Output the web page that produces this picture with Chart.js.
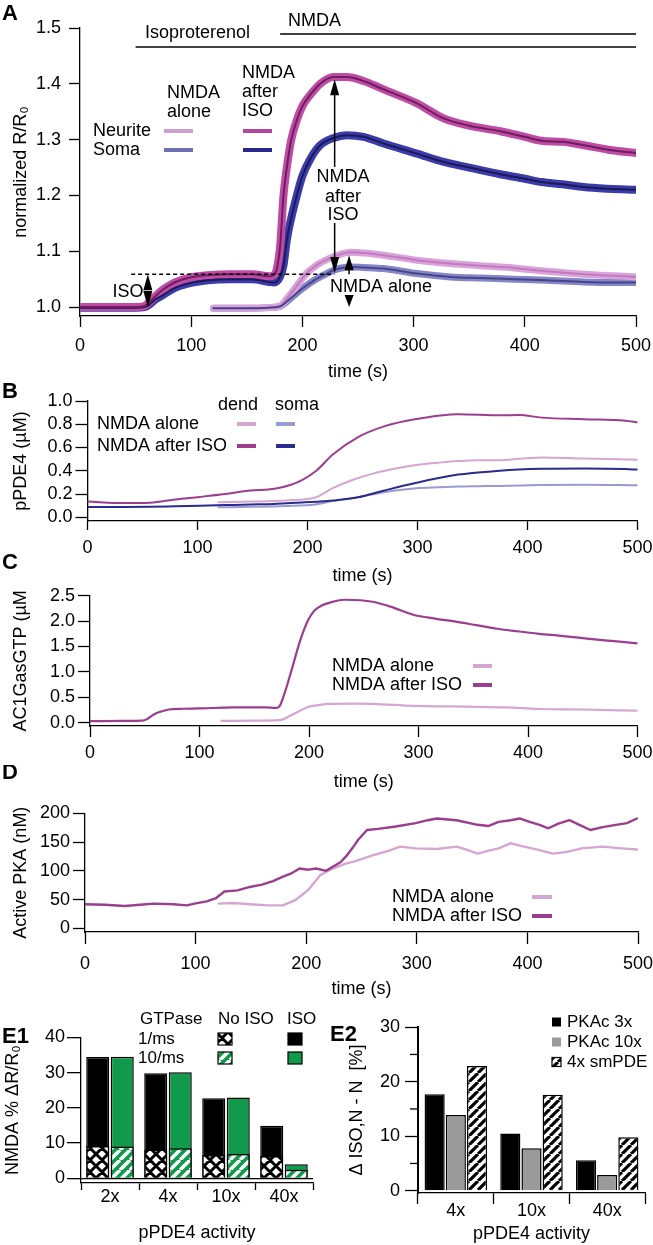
<!DOCTYPE html>
<html>
<head>
<meta charset="utf-8">
<title>pPDE4 / NMDA after ISO</title>
<script src="https://cdn.jsdelivr.net/npm/chart.js@4.4.1/dist/chart.umd.min.js"></script>
<style>
  html, body { margin: 0; padding: 0; background: #fff; }
  body { position: relative; width: 653px; height: 1245px; overflow: hidden; }
  canvas { position: absolute; }
</style>
</head>
<body>
<canvas id="chartA"></canvas>
<canvas id="chartB"></canvas>
<canvas id="chartC"></canvas>
<canvas id="chartD"></canvas>
<canvas id="chartE1"></canvas>
<canvas id="chartE2"></canvas>
<script>
// ===== Panel A : normalized R/R0 =====
const tIsoA = [0, 50, 58, 62, 68, 75, 85, 97, 115, 135, 155, 170, 174, 177, 180, 183, 186, 190, 195, 200, 207, 216, 228, 240, 255, 273, 303, 327, 350, 378, 400, 415, 434, 453, 475, 500];
const neuriteIsoA = [1.000, 1.000, 1.002, 1.008, 1.020, 1.032, 1.044, 1.052, 1.057, 1.059, 1.059, 1.055, 1.057, 1.068, 1.11, 1.20, 1.25, 1.30, 1.335, 1.36, 1.38, 1.40, 1.412, 1.412, 1.405, 1.39, 1.365, 1.338, 1.325, 1.315, 1.305, 1.298, 1.296, 1.29, 1.282, 1.276];
const somaIsoA = [0.999, 0.999, 1.000, 1.004, 1.014, 1.022, 1.034, 1.042, 1.048, 1.050, 1.050, 1.045, 1.044, 1.046, 1.055, 1.075, 1.12, 1.16, 1.20, 1.235, 1.265, 1.29, 1.303, 1.308, 1.305, 1.293, 1.275, 1.26, 1.25, 1.238, 1.23, 1.224, 1.22, 1.215, 1.212, 1.21];
const tAloneA = [120, 150, 170, 180, 186, 192, 198, 204, 210, 216, 222, 228, 235, 243, 255, 273, 303, 333, 360, 390, 420, 453, 480, 500];
const neuriteAloneA = [0.998, 0.998, 0.999, 1.002, 1.015, 1.030, 1.046, 1.061, 1.071, 1.079, 1.085, 1.090, 1.095, 1.098, 1.097, 1.093, 1.084, 1.078, 1.074, 1.070, 1.064, 1.059, 1.056, 1.054];
const somaAloneA = [0.998, 0.998, 0.999, 1.001, 1.010, 1.020, 1.030, 1.039, 1.047, 1.054, 1.060, 1.066, 1.070, 1.072, 1.071, 1.069, 1.060, 1.054, 1.052, 1.050, 1.048, 1.045, 1.044, 1.044];
const yTicksA = [1.0, 1.1, 1.2, 1.3, 1.4, 1.5];
const isoStart = 50, nmdaStart = 180;
const isoLevel = 1.059;

// ===== Panel B : pPDE4 (uM) =====
const tIsoB = [0, 34, 57, 80, 102, 125, 148, 170, 185, 195, 208, 223, 246, 269, 299, 337, 375, 392, 413, 451, 489, 500];
const dendIsoB = [0.136, 0.122, 0.125, 0.153, 0.175, 0.20, 0.23, 0.245, 0.28, 0.32, 0.40, 0.54, 0.69, 0.78, 0.845, 0.886, 0.877, 0.88, 0.857, 0.843, 0.83, 0.816];
const somaIsoB = [0.089, 0.089, 0.09, 0.095, 0.10, 0.105, 0.11, 0.115, 0.122, 0.127, 0.134, 0.144, 0.172, 0.228, 0.297, 0.367, 0.40, 0.41, 0.417, 0.42, 0.415, 0.41];
const tAloneB = [119, 150, 180, 207, 223, 242, 261, 280, 299, 320, 337, 355, 375, 395, 413, 451, 500];
const dendAloneB = [0.13, 0.135, 0.145, 0.17, 0.25, 0.325, 0.38, 0.42, 0.45, 0.47, 0.483, 0.49, 0.49, 0.505, 0.514, 0.505, 0.495];
const somaAloneB = [0.086, 0.09, 0.097, 0.11, 0.139, 0.165, 0.20, 0.23, 0.25, 0.258, 0.264, 0.267, 0.27, 0.274, 0.278, 0.28, 0.275];
const yTicksB = [0, 0.2, 0.4, 0.6, 0.8, 1.0];

// ===== Panel C : AC1GasGTP (uM) =====
const tIsoC = [0, 30, 48, 52, 56, 60, 65, 72, 85, 99, 131, 160, 170, 173, 178, 184, 192, 199, 205, 212, 220, 232, 247, 258, 275, 296, 315, 334, 353, 372, 390, 410, 430, 448, 470, 486, 500];
const ac1IsoC = [0.03, 0.035, 0.04, 0.07, 0.13, 0.18, 0.22, 0.26, 0.275, 0.28, 0.30, 0.30, 0.29, 0.32, 0.60, 1.03, 1.62, 2.01, 2.21, 2.31, 2.37, 2.42, 2.41, 2.38, 2.28, 2.12, 2.05, 1.99, 1.92, 1.85, 1.80, 1.75, 1.71, 1.67, 1.62, 1.59, 1.56];
const tAloneC = [120, 150, 173, 184, 199, 210, 218, 240, 258, 296, 330, 353, 380, 410, 450, 500];
const ac1AloneC = [0.035, 0.04, 0.05, 0.15, 0.31, 0.35, 0.37, 0.375, 0.37, 0.33, 0.32, 0.31, 0.30, 0.27, 0.26, 0.235];
const yTicksC = [0, 0.5, 1.0, 1.5, 2.0, 2.5];

// ===== Panel D : active PKA (nM) =====
const tIsoD = [0, 18, 36, 50, 62, 80, 92, 100, 110, 118, 126, 138, 149, 160, 170, 179, 186, 194, 202, 209, 218, 224, 231, 236, 242, 247, 255, 265, 281, 299, 310, 318, 336, 355, 365, 374, 385, 393, 402, 411, 419, 428, 438, 447, 457, 468, 480, 490, 499];
const pkaIsoD = [42, 41, 39, 41, 43, 42, 40, 43.5, 47, 52, 64, 66, 72, 76, 82, 90, 95, 104, 102, 104, 100, 107, 115, 125, 140, 154, 171, 173, 177, 183, 188, 191, 188, 180, 178, 185, 188, 191, 185, 180, 174, 182, 188, 180, 171, 176, 180, 183, 191];
const tAloneD = [121, 135, 149, 165, 179, 190, 202, 213, 224, 235, 243, 262, 275, 285, 299, 318, 336, 345, 355, 365, 374, 385, 395, 411, 423, 436, 449, 468, 485, 499];
const pkaAloneD = [43, 44, 42, 40, 40, 49, 67, 93, 104, 112, 116, 128, 135, 142, 139, 138, 142, 137, 130, 135, 139, 148, 143, 136, 130, 133, 139, 142, 139, 137];
const yTicksD = [0, 50, 100, 150, 200];

// ===== Panel E1 : NMDA % dR/R0 =====
const e1Cats = ['2x', '4x', '10x', '40x'];
const iso1ms = [34.4, 29.8, 22.7, 14.9];
const noIso1ms = [9.2, 8.2, 6.6, 6.3];
const iso10ms = [34.5, 30.1, 22.9, 4.0];
const noIso10ms = [9.0, 8.5, 6.9, 2.4];
const yTicksE1 = [0, 10, 20, 30, 40];

// ===== Panel E2 : delta ISO,N - N =====
const e2Cats = ['4x', '10x', '40x'];
const pkac3x = [17.7, 10.5, 5.6];
const pkac10x = [13.9, 7.8, 2.9];
const smPde4x = [22.9, 17.6, 9.8];
const yTicksE2 = [0, 10, 20, 30];
const yMinorE2 = [5, 15, 25];

// ---------------------------------------------------------------
const FONT = '"Liberation Sans", Arial, sans-serif';
const GREEN = '#119a4c';
const ISO_C = '#9c3d8e', ALONE_C = '#d6a6d2';
const SOMA_ISO_C = '#2b2b8f', SOMA_ALONE_C = '#9a9ad2';

Chart.defaults.font.family = FONT;
Chart.defaults.font.size = 18;
Chart.defaults.font.weight = 'normal';
Chart.defaults.color = '#000';
Chart.defaults.animation = false;
Chart.defaults.events = [];
Chart.defaults.plugins.legend.display = false;
Chart.defaults.plugins.tooltip.enabled = false;

// panel boxes (canvas) and plot areas, page coordinates
const boxA = {x: 0, y: 0, w: 653, h: 385},    areaA = {l: 80, r: 636, t: 28, b: 316};
const boxB = {x: 0, y: 378, w: 653, h: 212},  areaB = {l: 87.5, r: 637.5, t: 401, b: 521};
const boxC = {x: 0, y: 550, w: 653, h: 245},  areaC = {l: 90, r: 637.5, t: 595.7, b: 726};
const boxD = {x: 0, y: 765, w: 653, h: 235},  areaD = {l: 85, r: 638, t: 813.3, b: 932};
const boxE1 = {x: 0, y: 1010, w: 330, h: 235}, areaE1 = {l: 81, r: 313, t: 1037.3, b: 1183};
const boxE2 = {x: 325, y: 1010, w: 328, h: 235}, areaE2 = {l: 418, r: 645, t: 1027.2, b: 1193};

function place(id, box) {
  const c = document.getElementById(id);
  c.width = box.w; c.height = box.h;
  Object.assign(c.style, {left: box.x + 'px', top: box.y + 'px', width: box.w + 'px', height: box.h + 'px'});
  return c;
}

function layoutFor(box, area) {
  return {padding: {top: area.t - box.y, right: box.x + box.w - area.r, left: 0, bottom: 0}};
}

function pts(ts, vs) {
  return ts.map((t, i) => ({x: t, y: vs[i]}));
}

function lineDS(ts, vs, color, width, smooth = true) {
  return {
    data: pts(ts, vs), borderColor: color, borderWidth: width, pointRadius: 0, fill: false,
    tension: smooth ? 0.4 : 0, cubicInterpolationMode: smooth ? 'monotone' : 'default',
    borderJoinStyle: 'round', borderCapStyle: 'round'
  };
}

function xAxis(box, area, tickLen, tickPad, title, titlePad, extra) {
  return Object.assign({
    ticks: {padding: tickPad, maxRotation: 0, autoSkip: false, font: {size: 18}},
    grid: {drawOnChartArea: false, drawTicks: true, tickLength: tickLen, tickColor: '#000', tickWidth: 1.3},
    border: {display: true, color: '#000', width: 1.3},
    title: {display: true, text: title, font: {size: 18, weight: 'normal'}, padding: {top: 0, bottom: titlePad}},
    afterFit: s => { s.height = box.y + box.h - area.b; s.paddingLeft = 0; s.paddingRight = 0; }
  }, extra);
}

function yAxis(box, area, min, max, tickVals, dec, title, titlePad, tickLen, tickPad) {
  return {
    type: 'linear', min: min, max: max,
    afterBuildTicks: s => { s.ticks = tickVals.map(v => ({value: v})); },
    ticks: {callback: v => v.toFixed(dec), padding: tickPad, autoSkip: false, font: {size: 18}},
    grid: {drawOnChartArea: false, drawTicks: true, tickLength: tickLen, tickColor: '#000', tickWidth: 1.3},
    border: {display: true, color: '#000', width: 1.3},
    title: {display: true, text: title, font: {size: 18, weight: 'normal'}, padding: {top: titlePad, bottom: 0}},
    afterFit: s => { s.width = area.l - box.x; s.paddingTop = 0; s.paddingBottom = 0; }
  };
}

function timeAxis(box, area, tickLen, tickPad, titlePad) {
  return xAxis(box, area, tickLen, tickPad, 'time (s)', titlePad, {type: 'linear', min: 0, max: 500,
    ticks: {stepSize: 100, padding: tickPad, maxRotation: 0, autoSkip: false, font: {size: 18}}});
}

// overlay drawing in page coordinates
function overlay(box, draw) {
  return {
    id: 'overlay',
    afterDraw(chart) {
      const ctx = chart.ctx, sx = chart.scales.x, sy = chart.scales.y;
      const X = v => box.x + sx.getPixelForValue(v);
      const Y = v => box.y + sy.getPixelForValue(v);
      ctx.save();
      ctx.translate(-box.x, -box.y);
      draw(ctx, X, Y);
      ctx.restore();
    }
  };
}

function txt(ctx, s, x, y, align = 'left', size = 18, bold = false) {
  ctx.font = (bold ? 'bold ' : '') + size + 'px ' + FONT;
  ctx.textAlign = align;
  ctx.textBaseline = 'middle';
  ctx.fillStyle = '#000';
  ctx.fillText(s, x, y);
}

function seg(ctx, x1, y1, x2, y2, color = '#000', w = 1.5) {
  ctx.strokeStyle = color; ctx.lineWidth = w;
  ctx.beginPath(); ctx.moveTo(x1, y1); ctx.lineTo(x2, y2); ctx.stroke();
}

// filled arrow head, dir -1 = pointing up, +1 = pointing down
function head(ctx, x, tipY, dir, len = 15, hw = 4.5) {
  ctx.fillStyle = '#000';
  ctx.beginPath();
  ctx.moveTo(x, tipY);
  ctx.lineTo(x - hw, tipY - dir * len);
  ctx.lineTo(x + hw, tipY - dir * len);
  ctx.closePath();
  ctx.fill();
}

function hatch(bg, fg, size, lw, cross) {
  const c = document.createElement('canvas');
  c.width = size; c.height = size;
  const g = c.getContext('2d');
  g.fillStyle = bg; g.fillRect(0, 0, size, size);
  g.strokeStyle = fg; g.lineWidth = lw;
  g.beginPath();
  for (const o of [-size, 0, size]) { g.moveTo(o, size); g.lineTo(o + size, 0); }
  if (cross) for (const o of [-size, 0, size]) { g.moveTo(o, 0); g.lineTo(o + size, size); }
  g.stroke();
  return g.createPattern(c, 'repeat');
}

const crossPat = hatch('#fff', '#000', 12, 3, true);
const greenStripe = hatch(GREEN, '#fff', 10, 3.5, false);
const bwStripe = hatch('#fff', '#000', 9, 3.2, false);

// ---------------- Panel A ----------------
new Chart(place('chartA', boxA), {
  type: 'line',
  data: {datasets: [
    lineDS(tIsoA, neuriteIsoA, '#6c1f5c', 2),
    lineDS(tIsoA, somaIsoA, '#1a1a55', 2),
    lineDS(tAloneA, somaAloneA, '#45458a', 2),
    lineDS(tAloneA, neuriteAloneA, '#c27ac2', 2),
    lineDS(tIsoA, neuriteIsoA, '#c04aa6', 8),
    lineDS(tIsoA, somaIsoA, '#3b3bab', 8),
    lineDS(tAloneA, neuriteAloneA, '#d9a3d9', 7),
    lineDS(tAloneA, somaAloneA, '#8585c8', 7)
  ]},
  options: {
    responsive: false,
    layout: layoutFor(boxA, areaA),
    scales: {
      x: timeAxis(boxA, areaA, 11, 8, 2),
      y: yAxis(boxA, areaA, 0.984, 1.5, yTicksA, 1, 'normalized R/R\u2080', 10, 11, 8)
    }
  },
  plugins: [overlay(boxA, (ctx, X, Y) => {
    txt(ctx, 'A', 2, 14, 'left', 22, true);
    // drug application bars
    seg(ctx, X(isoStart), 47, X(500), 47);
    seg(ctx, X(nmdaStart), 34, X(500), 34);
    txt(ctx, 'Isoproterenol', 145, 33);
    txt(ctx, 'NMDA', 288, 21);
    // legend
    txt(ctx, 'NMDA', 167, 93); txt(ctx, 'alone', 167, 112);
    txt(ctx, 'NMDA', 242, 73); txt(ctx, 'after', 242, 92); txt(ctx, 'ISO', 242, 111);
    txt(ctx, 'Neurite', 93, 131); txt(ctx, 'Soma', 93, 150);
    seg(ctx, 164, 131, 193, 131, '#cda0d2', 4);
    seg(ctx, 243, 131, 272, 131, '#b446a0', 4);
    seg(ctx, 164, 150, 193, 150, '#6e6eb4', 4);
    seg(ctx, 243, 150, 272, 150, '#28288c', 4);
    // baseline after ISO
    ctx.setLineDash([4, 3]);
    seg(ctx, X(46), Y(isoLevel), X(229), Y(isoLevel));
    ctx.setLineDash([]);
    // NMDA after ISO arrow
    const xa = X(229);
    seg(ctx, xa, Y(1.408) + 10, xa, 167);
    head(ctx, xa, Y(1.408), -1, 16);
    seg(ctx, xa, 223, xa, Y(1.061) - 10);
    head(ctx, xa, Y(1.061), 1, 16);
    txt(ctx, 'NMDA', 343, 177, 'center');
    txt(ctx, 'after', 343, 197, 'center');
    txt(ctx, 'ISO', 343, 215, 'center');
    // NMDA alone arrow
    const xb = X(242);
    seg(ctx, xb, Y(isoLevel), xb, Y(1.093) + 10);
    head(ctx, xb, Y(1.093), -1, 15);
    head(ctx, xb, Y(1.0), 1, 12);
    txt(ctx, 'NMDA alone', 381, 287, 'center');
    // ISO arrow
    const xi = X(61);
    head(ctx, xi, Y(isoLevel), -1, 16);
    head(ctx, xi, Y(1.0), 1, 16);
    txt(ctx, 'ISO', 128, 292, 'center');
  })]
});

// ---------------- Panel B ----------------
new Chart(place('chartB', boxB), {
  type: 'line',
  data: {datasets: [
    lineDS(tIsoB, dendIsoB, ISO_C, 2),
    lineDS(tIsoB, somaIsoB, SOMA_ISO_C, 2),
    lineDS(tAloneB, dendAloneB, ALONE_C, 2),
    lineDS(tAloneB, somaAloneB, SOMA_ALONE_C, 2)
  ]},
  options: {
    responsive: false,
    layout: layoutFor(boxB, areaB),
    scales: {
      x: timeAxis(boxB, areaB, 9, 7, 3),
      y: yAxis(boxB, areaB, -0.032, 1.0, yTicksB, 1, 'pPDE4 (\u00b5M)', 10, 12, 3)
    }
  },
  plugins: [overlay(boxB, (ctx) => {
    txt(ctx, 'B', 2, 392, 'left', 22, true);
    txt(ctx, 'dend', 238, 405, 'center');
    txt(ctx, 'soma', 297, 405, 'center');
    txt(ctx, 'NMDA alone', 97, 424);
    txt(ctx, 'NMDA after ISO', 97, 446);
    seg(ctx, 237, 424, 256, 424, ALONE_C, 4);
    seg(ctx, 237, 446, 256, 446, ISO_C, 4);
    seg(ctx, 276, 424, 295, 424, SOMA_ALONE_C, 4);
    seg(ctx, 276, 446, 295, 446, SOMA_ISO_C, 4);
  })]
});

// ---------------- Panel C ----------------
new Chart(place('chartC', boxC), {
  type: 'line',
  data: {datasets: [
    lineDS(tIsoC, ac1IsoC, ISO_C, 2.2),
    lineDS(tAloneC, ac1AloneC, ALONE_C, 2.2)
  ]},
  options: {
    responsive: false,
    layout: layoutFor(boxC, areaC),
    scales: {
      x: timeAxis(boxC, areaC, 11, 5, 2),
      y: yAxis(boxC, areaC, -0.065, 2.5, yTicksC, 1, 'AC1GasGTP (\u00b5M', 10, 12, 3)
    }
  },
  plugins: [overlay(boxC, (ctx) => {
    txt(ctx, 'C', 2, 563, 'left', 22, true);
    txt(ctx, 'NMDA alone', 332, 666);
    txt(ctx, 'NMDA after ISO', 332, 685);
    seg(ctx, 473, 666, 492, 666, ALONE_C, 4);
    seg(ctx, 473, 685, 492, 685, ISO_C, 4);
  })]
});

// ---------------- Panel D ----------------
new Chart(place('chartD', boxD), {
  type: 'line',
  data: {datasets: [
    lineDS(tIsoD, pkaIsoD, ISO_C, 2.4, false),
    lineDS(tAloneD, pkaAloneD, ALONE_C, 2.4, false)
  ]},
  options: {
    responsive: false,
    layout: layoutFor(boxD, areaD),
    scales: {
      x: timeAxis(boxD, areaD, 12, 9, 0),
      y: yAxis(boxD, areaD, -6.3, 200, yTicksD, 0, 'Active PKA (nM)', 10, 12, 3)
    }
  },
  plugins: [overlay(boxD, (ctx) => {
    txt(ctx, 'D', 2, 773, 'left', 22, true);
    txt(ctx, 'NMDA alone', 392, 897);
    txt(ctx, 'NMDA after ISO', 392, 916);
    seg(ctx, 532, 897, 552, 897, ALONE_C, 4);
    seg(ctx, 532, 916, 552, 916, ISO_C, 4);
  })]
});

// ---------------- Panel E1 ----------------
const barBase = {borderColor: '#000', borderWidth: 1.5, categoryPercentage: 0.845, barPercentage: 0.94};
new Chart(place('chartE1', boxE1), {
  type: 'bar',
  data: {labels: e1Cats, datasets: [
    Object.assign({label: 'No ISO 1/ms', data: noIso1ms, stack: 'g1', backgroundColor: crossPat, order: 0}, barBase),
    Object.assign({label: 'No ISO 10/ms', data: noIso10ms, stack: 'g10', backgroundColor: greenStripe, order: 1}, barBase),
    Object.assign({label: 'ISO 1/ms', data: iso1ms, stack: 'g1', backgroundColor: '#000', order: 2}, barBase),
    Object.assign({label: 'ISO 10/ms', data: iso10ms, stack: 'g10', backgroundColor: GREEN, order: 3}, barBase)
  ]},
  options: {
    responsive: false,
    layout: layoutFor(boxE1, areaE1),
    scales: {
      x: xAxis(boxE1, areaE1, 7, -4, 'pPDE4 activity', 1, {type: 'category', stacked: true, offset: true}),
      y: Object.assign(yAxis(boxE1, areaE1, -1.33, 40, yTicksE1, 0, 'NMDA % \u0394R/R\u2080', 2, 14, 2), {
        stacked: false,
        grid: {drawOnChartArea: true, drawTicks: true, tickLength: 14, tickColor: '#000', tickWidth: 1.3,
               color: c => (c.tick && c.tick.value === 0) ? '#000' : 'rgba(0,0,0,0)', lineWidth: 1.3}
      })
    }
  },
  plugins: [overlay(boxE1, (ctx) => {
    txt(ctx, 'E1', 2, 1037, 'left', 22, true);
    txt(ctx, 'GTPase', 140, 1019, 'left', 17);
    txt(ctx, 'No ISO', 218, 1019, 'left', 17);
    txt(ctx, 'ISO', 287, 1019, 'left', 17);
    txt(ctx, '1/ms', 138, 1039, 'left', 17);
    txt(ctx, '10/ms', 138, 1058, 'left', 17);
    const sq = (x, y, fill) => {
      ctx.fillStyle = fill; ctx.fillRect(x, y, 14, 12);
      ctx.strokeStyle = '#000'; ctx.lineWidth = 1.2; ctx.strokeRect(x, y, 14, 12);
    };
    sq(218, 1033, crossPat); sq(288, 1033, '#000');
    sq(218, 1052, greenStripe); sq(288, 1052, GREEN);
  })]
});

// ---------------- Panel E2 ----------------
const barBase2 = {borderColor: '#000', borderWidth: 1.5, categoryPercentage: 0.84, barPercentage: 0.95};
new Chart(place('chartE2', boxE2), {
  type: 'bar',
  data: {labels: e2Cats, datasets: [
    Object.assign({label: 'PKAc 3x', data: pkac3x, backgroundColor: '#000'}, barBase2),
    Object.assign({label: 'PKAc 10x', data: pkac10x, backgroundColor: '#9a9a9a'}, barBase2),
    Object.assign({label: '4x smPDE', data: smPde4x, backgroundColor: bwStripe}, barBase2)
  ]},
  options: {
    responsive: false,
    layout: layoutFor(boxE2, areaE2),
    scales: {
      x: xAxis(boxE2, areaE2, 11, -4, 'pPDE4 activity', 0, {type: 'category', offset: true}),
      y: Object.assign(yAxis(boxE2, areaE2, -0.42, 30, yTicksE2, 0, '\u0394 ISO,N - N  [%]', 21, 13, 5),
        {border: {display: true, color: '#000', width: 2}})
    }
  },
  plugins: [overlay(boxE2, (ctx, X, Y) => {
    txt(ctx, 'E2', 330, 1035, 'left', 22, true);
    yMinorE2.forEach(v => seg(ctx, areaE2.l - 8, Y(v), areaE2.l, Y(v), '#000', 1.3));
    const items = [['PKAc 3x', '#000', 1022], ['PKAc 10x', '#9a9a9a', 1042], ['4x smPDE', bwStripe, 1062]];
    items.forEach(([label, fill, y]) => {
      ctx.fillStyle = fill; ctx.fillRect(552, y - 4.5, 9, 9);
      if (fill === bwStripe) { ctx.strokeStyle = '#000'; ctx.lineWidth = 1.2; ctx.strokeRect(552, y - 4.5, 9, 9); }
      txt(ctx, label, 567, y, 'left', 17);
    });
  })]
});
</script>
</body>
</html>
